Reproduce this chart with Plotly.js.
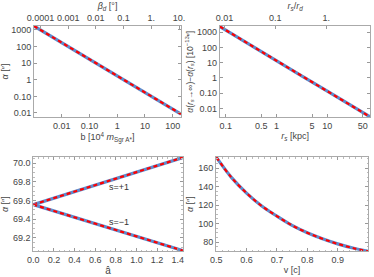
<!DOCTYPE html>
<html><head><meta charset="utf-8">
<script src="https://cdn.plot.ly/plotly-3.0.1.min.js"></script>
<style>html,body{margin:0;padding:0;background:#fff}#c{width:374px;height:277px}</style>
</head><body><div id="c"></div>
<script>
// Panel 1: deflection vs impact parameter
const b1 = [0.001, 0.003, 0.01, 0.03, 0.1, 0.3, 1, 3, 10, 30, 100, 200];
const alpha1 = [1700, 570, 172, 57, 17.2, 5.7, 1.72, 0.57, 0.172, 0.057, 0.0172, 0.0086];
const bTicks = [0.01, 0.1, 1, 10, 100];
const bTickText = ["0.01", "0.10", "1", "10", "100"];
const betaTicks = [0.0001, 0.001, 0.01, 0.1, 1, 10];
const betaTickText = ["0.0001", "0.001", "0.01", "0.1", "1.", "10."];
const logTicks = [0.01, 0.1, 1, 10, 100, 1000];
const logTickText = ["0.01", "0.10", "1", "10", "100", "1000"];
const betaPerB = 1 / 17;

// Panel 2: difference vs source distance
const rs2 = [0.077, 0.1, 0.3, 1, 3, 10, 30, 70];
const alpha2 = [2300, 1350, 150, 13.5, 1.5, 0.135, 0.015, 0.0028];
const rsTicks = [0.1, 0.5, 1, 5, 10, 50];
const rsTickText = ["0.1", "0.5", "1", "5", "10", "50"];
const rdTicks = [0.01, 0.1, 1];
const rdTickText = ["0.01", "0.1", "1."];
const rd = 9.5;

// Panel 3: spin dependence
const a3 = [0, 0.2, 0.4, 0.6, 0.8, 1.0, 1.2, 1.45];
const alphaPlus = [69.555, 69.625, 69.695, 69.765, 69.835, 69.905, 69.975, 70.06];
const alphaMinus = [69.555, 69.487, 69.419, 69.351, 69.283, 69.215, 69.147, 69.062];

// Panel 4: velocity dependence
const v4 = [0.5, 0.55, 0.6, 0.65, 0.7, 0.75, 0.8, 0.85, 0.9, 0.95, 1.0];
const alpha4 = [172, 150, 133, 119, 108, 98, 90, 83.5, 78, 73.5, 70];

const blue = "rgb(94,140,205)";
const red = "rgb(255,0,0)";
function pair(x, y, xa, ya, shape) {
  return [
    {x: x, y: y, xaxis: xa, yaxis: ya, mode: "lines", line: {color: blue, width: 3.2, shape: shape || "linear"}, hoverinfo: "skip", showlegend: false},
    {x: x, y: y, xaxis: xa, yaxis: ya, mode: "lines", line: {color: red, width: 2.2, dash: "4px,3px", shape: shape || "linear"}, hoverinfo: "skip", showlegend: false}
  ];
}
function ghost(x, y, xa, ya) {
  return {x: x, y: y, xaxis: xa, yaxis: ya, mode: "lines", line: {color: "rgba(0,0,0,0)", width: 0}, opacity: 0, hoverinfo: "skip", showlegend: false};
}
const data = [].concat(
  pair(b1, alpha1, "x", "y"),
  [ghost(b1.map(b => b * betaPerB), alpha1, "x2", "y")],
  pair(rs2, alpha2, "x3", "y2"),
  [ghost(rs2.map(r => r / rd), alpha2, "x4", "y2")],
  pair(a3, alphaPlus, "x5", "y3"),
  pair(a3, alphaMinus, "x5", "y3"),
  pair(v4, alpha4, "x6", "y4", "spline")
);

const tickFont = {family: "Liberation Sans, Arial, sans-serif", size: 9, color: "#444"};
const titleFont = {family: "Liberation Sans, Arial, sans-serif", size: 9, color: "#444"};
const base = {
  showgrid: false, zeroline: false, showline: true, linecolor: "#aaa", linewidth: 1,
  ticks: "inside", ticklen: 3, tickcolor: "#999", tickfont: tickFont
};
function ax(o) { return Object.assign({}, base, o); }
function minor(d, t0) { return {ticks: "inside", ticklen: 1.5, tickcolor: "#bbb", dtick: d, tick0: t0, showgrid: false}; }
const L10 = Math.log10;

const dx1 = [0.091, 0.484], dy1 = [0.578, 0.906];
const dx2 = [0.588, 0.990], dy2 = [0.576, 0.906];
const dx3 = [0.089, 0.489], dy3 = [0.093, 0.433];
const dx4 = [0.578, 0.984], dy4 = [0.093, 0.433];
const bRange = [L10(0.001), L10(200)];
const rsRange = [L10(0.077), L10(70)];

const layout = {
  width: 374, height: 277, margin: {l: 0, r: 0, t: 0, b: 0},
  paper_bgcolor: "#fff", plot_bgcolor: "#fff", showlegend: false,
  xaxis: ax({domain: dx1, anchor: "y", type: "log", range: bRange, tickvals: bTicks, ticktext: bTickText, mirror: false,
    title: {text: "b [10<sup>4</sup> <i>m</i><sub>Sgr A*</sub>]", font: titleFont, standoff: 2}}),
  xaxis2: ax({overlaying: "x", anchor: "y", side: "top", type: "log", range: [bRange[0] + L10(betaPerB), bRange[1] + L10(betaPerB)],
    tickvals: betaTicks, ticktext: betaTickText, title: {text: "<i>β<sub>d</sub></i> [°]", font: titleFont, standoff: 2}}),
  yaxis: ax({domain: dy1, anchor: "x", type: "log", range: [L10(0.0058), L10(1700)], tickvals: logTicks, ticktext: logTickText, mirror: "ticks",
    title: {text: "<i>α</i> [″]", font: titleFont, standoff: 3}}),

  xaxis3: ax({domain: dx2, anchor: "y2", type: "log", range: rsRange, tickvals: rsTicks, ticktext: rsTickText, mirror: false,
    title: {text: "<i>r<sub>s</sub></i> [kpc]", font: titleFont, standoff: 2}}),
  xaxis4: ax({overlaying: "x3", anchor: "y2", side: "top", type: "log", range: [rsRange[0] - L10(rd), rsRange[1] - L10(rd)],
    tickvals: rdTicks, ticktext: rdTickText, title: {text: "<i>r<sub>s</sub></i>/<i>r<sub>d</sub></i>", font: titleFont, standoff: 2}}),
  yaxis2: ax({domain: dy2, anchor: "x3", type: "log", range: [L10(0.0026), L10(2500)], tickvals: logTicks, ticktext: logTickText, mirror: "ticks",
    title: {text: "<i>α</i>(<i>r<sub>s</sub></i>→∞)−<i>α</i>(<i>r<sub>s</sub></i>) [10<sup>−13</sup>″]", font: {family: titleFont.family, size: 8.5, color: "#444"}, standoff: 2}}),

  xaxis5: ax({domain: dx3, anchor: "y3", range: [0, 1.45], tickvals: [0, 0.2, 0.4, 0.6, 0.8, 1.0, 1.2, 1.4], tickformat: ".1f", mirror: "ticks",
    minor: minor(0.05, 0), title: {text: "â", font: {family: titleFont.family, size: 10, color: "#444"}, standoff: 1}}),
  yaxis3: ax({domain: dy3, anchor: "x5", range: [69.055, 70.065], tickvals: [69.2, 69.4, 69.6, 69.8, 70.0], tickformat: ".1f", mirror: "ticks",
    minor: minor(0.05, 69), title: {text: "<i>α</i> [″]", font: titleFont, standoff: 3}}),

  xaxis6: ax({domain: dx4, anchor: "y4", range: [0.5, 1.0], tickvals: [0.5, 0.6, 0.7, 0.8, 0.9, 1.0], tickformat: ".1f", mirror: "ticks",
    minor: minor(0.02, 0.5), title: {text: "v [c]", font: titleFont, standoff: 2}}),
  yaxis4: ax({domain: dy4, anchor: "x6", range: [70, 172], tickvals: [80, 100, 120, 140, 160], mirror: "ticks",
    minor: minor(5, 0), title: {text: "<i>α</i> [″]", font: titleFont, standoff: 3}}),

  annotations: [
    {xref: "x5", yref: "y3", x: 0.83, y: 69.74, text: "s=+1", showarrow: false, font: {family: titleFont.family, size: 9, color: "#333"}},
    {xref: "x5", yref: "y3", x: 0.83, y: 69.37, text: "s=−1", showarrow: false, font: {family: titleFont.family, size: 9, color: "#333"}}
  ]
};
Plotly.newPlot("c", data, layout, {staticPlot: true, displayModeBar: false});
</script></body></html>
